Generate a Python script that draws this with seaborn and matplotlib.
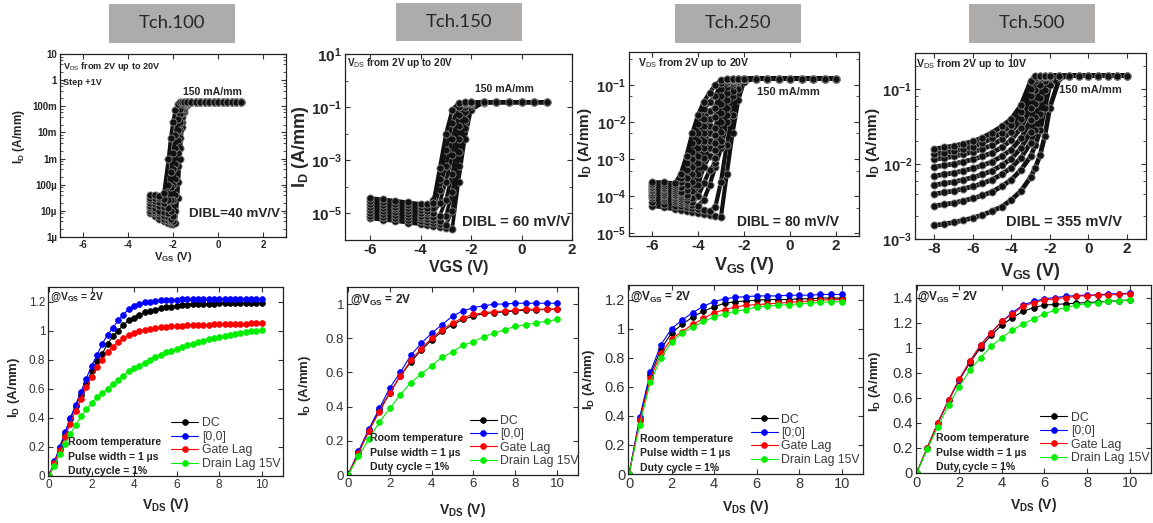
import matplotlib
matplotlib.use("Agg")
import matplotlib.pyplot as plt
import numpy as np
import pandas as pd
import seaborn as sns
from matplotlib.patches import Rectangle
from matplotlib.ticker import LogLocator, NullFormatter, FixedLocator

sns.set_theme(style="ticks")
plt.rcParams["font.family"] = ["Liberation Sans", "DejaVu Sans"]
plt.rcParams["mathtext.fontset"] = "custom"
plt.rcParams["mathtext.rm"] = "Liberation Sans"
plt.rcParams["mathtext.bf"] = "Liberation Sans:bold"
plt.rcParams["mathtext.it"] = "Liberation Sans:italic"
plt.rcParams["axes.unicode_minus"] = False

# ---------------- DATA ----------------
panel_titles = ["Tch.100", "Tch.150", "Tch.250", "Tch.500"]
vds_ranges = ["20V", "20V", "20V", "10V"]
dibl_labels = ["DIBL=40 mV/V", "DIBL = 60 mV/V", "DIBL = 80 mV/V", "DIBL = 355 mV/V"]

# transfer curves: log10(ID [A/mm]) vs VGS, one row per VDS step
vgs_100 = [-3.0, -2.8, -2.6, -2.4, -2.2, -2.1, -2.0, -1.9, -1.8, -1.7, -1.6, -1.5, -1.4,
           -1.2, -1.0, -0.8, -0.6, -0.4, -0.2, 0.0, 0.2, 0.4, 0.6, 0.8, 1.0]
logid_100 = [
    [-5.1, -5.2, -5.3, -5.4, -5.45, -5.5, -5.5, -5.45, -4.5, -3.0, -1.8, -1.2, -0.95, -0.83,
     -0.82, -0.82, -0.82, -0.82, -0.82, -0.82, -0.82, -0.82, -0.82, -0.82, -0.82],
    [-5.0, -5.1, -5.2, -5.3, -5.35, -5.4, -5.4, -5.0, -3.9, -2.6, -1.6, -1.1, -0.9, -0.82,
     -0.82, -0.82, -0.82, -0.82, -0.82, -0.82, -0.82, -0.82, -0.82, -0.82, -0.82],
    [-4.9, -5.0, -5.1, -5.2, -5.25, -5.3, -5.2, -4.4, -3.3, -2.2, -1.4, -1.0, -0.87, -0.82,
     -0.82, -0.82, -0.82, -0.82, -0.82, -0.82, -0.82, -0.82, -0.82, -0.82, -0.82],
    [-4.8, -4.9, -5.0, -5.05, -5.1, -5.0, -4.6, -3.8, -2.8, -1.9, -1.25, -0.95, -0.85, -0.82,
     -0.82, -0.82, -0.82, -0.82, -0.82, -0.82, -0.82, -0.82, -0.82, -0.82, -0.82],
    [-4.7, -4.75, -4.8, -4.85, -4.9, -4.6, -4.0, -3.2, -2.3, -1.6, -1.1, -0.9, -0.84, -0.82,
     -0.82, -0.82, -0.82, -0.82, -0.82, -0.82, -0.82, -0.82, -0.82, -0.82, -0.82],
    [-4.6, -4.62, -4.65, -4.7, -4.6, -4.1, -3.4, -2.6, -1.9, -1.3, -1.0, -0.87, -0.83, -0.82,
     -0.82, -0.82, -0.82, -0.82, -0.82, -0.82, -0.82, -0.82, -0.82, -0.82, -0.82],
    [-4.5, -4.5, -4.52, -4.55, -4.0, -3.5, -2.8, -2.1, -1.5, -1.1, -0.92, -0.85, -0.82, -0.82,
     -0.82, -0.82, -0.82, -0.82, -0.82, -0.82, -0.82, -0.82, -0.82, -0.82, -0.82],
    [-4.4, -4.4, -4.42, -4.3, -3.0, -2.2, -1.6, -1.15, -0.92, -0.84, -0.82, -0.82, -0.82, -0.82,
     -0.82, -0.82, -0.82, -0.82, -0.82, -0.82, -0.82, -0.82, -0.82, -0.82, -0.82],
]

vgs_150 = [-6.0, -5.5, -5.0, -4.5, -4.0, -3.75, -3.5, -3.25, -3.0, -2.75, -2.5, -2.25, -2.0,
           -1.5, -1.0, -0.5, 0.0, 0.5, 1.0]
logid_150 = [
    [-5.19, -5.24, -5.29, -5.35, -5.41, -5.44, -5.47, -5.51, -5.54, -5.58, -3.8, -2.2, -1.1,
     -0.83, -0.82, -0.82, -0.82, -0.82, -0.82],
    [-5.08, -5.13, -5.18, -5.24, -5.30, -5.33, -5.36, -5.40, -5.43, -4.9, -3.2, -1.8, -0.95,
     -0.82, -0.82, -0.82, -0.82, -0.82, -0.82],
    [-4.97, -5.02, -5.07, -5.13, -5.19, -5.22, -5.25, -5.29, -5.1, -4.2, -2.7, -1.5, -0.88,
     -0.82, -0.82, -0.82, -0.82, -0.82, -0.82],
    [-4.86, -4.91, -4.96, -5.02, -5.08, -5.11, -5.14, -5.1, -4.5, -3.5, -2.2, -1.2, -0.84,
     -0.82, -0.82, -0.82, -0.82, -0.82, -0.82],
    [-4.75, -4.80, -4.85, -4.91, -4.97, -5.00, -5.0, -4.6, -3.8, -2.8, -1.7, -1.0, -0.83,
     -0.82, -0.82, -0.82, -0.82, -0.82, -0.82],
    [-4.64, -4.69, -4.74, -4.80, -4.86, -4.89, -4.8, -4.1, -3.2, -2.2, -1.3, -0.88, -0.82,
     -0.82, -0.82, -0.82, -0.82, -0.82, -0.82],
    [-4.53, -4.58, -4.63, -4.69, -4.75, -4.78, -4.5, -3.7, -2.6, -1.6, -1.0, -0.84, -0.82,
     -0.82, -0.82, -0.82, -0.82, -0.82, -0.82],
    [-4.42, -4.47, -4.52, -4.58, -4.64, -4.66, -4.6, -3.3, -2.0, -1.1, -0.84, -0.82, -0.82,
     -0.82, -0.82, -0.82, -0.82, -0.82, -0.82],
]

vgs_250 = [-6.0, -5.5, -5.0, -4.75, -4.5, -4.25, -4.0, -3.75, -3.5, -3.25, -3.0, -2.75, -2.5,
           -2.25, -2.0, -1.5, -1.0, -0.5, 0.0, 0.5, 1.0, 1.5, 2.0]
logid_250 = [
    [-4.25, -4.30, -4.35, -4.37, -4.40, -4.42, -4.45, -4.47, -4.50, -4.52, -4.55, -3.4, -2.3,
     -1.4, -0.9, -0.82, -0.82, -0.82, -0.82, -0.82, -0.82, -0.82, -0.82],
    [-4.15, -4.20, -4.25, -4.27, -4.30, -4.32, -4.35, -4.37, -4.40, -4.3, -3.6, -2.6, -1.8,
     -1.1, -0.84, -0.82, -0.82, -0.82, -0.82, -0.82, -0.82, -0.82, -0.82],
    [-4.05, -4.10, -4.15, -4.17, -4.20, -4.22, -4.25, -4.1, -3.7, -3.2, -2.7, -2.0, -1.3,
     -0.9, -0.82, -0.82, -0.82, -0.82, -0.82, -0.82, -0.82, -0.82, -0.82],
    [-4.00, -4.05, -4.10, -4.12, -4.15, -4.15, -4.0, -3.65, -3.3, -3.1, -2.6, -1.8, -1.15,
     -0.87, -0.82, -0.82, -0.82, -0.82, -0.82, -0.82, -0.82, -0.82, -0.82],
    [-3.95, -4.00, -4.05, -4.07, -4.10, -4.05, -3.7, -3.2, -2.9, -2.95, -2.5, -1.6, -1.0,
     -0.84, -0.82, -0.82, -0.82, -0.82, -0.82, -0.82, -0.82, -0.82, -0.82],
    [-3.90, -3.95, -4.00, -4.02, -4.03, -3.85, -3.4, -2.95, -2.7, -2.75, -2.25, -1.4, -0.93,
     -0.83, -0.82, -0.82, -0.82, -0.82, -0.82, -0.82, -0.82, -0.82, -0.82],
    [-3.85, -3.90, -3.95, -3.97, -3.95, -3.6, -3.1, -2.7, -2.5, -2.55, -2.0, -1.2, -0.88,
     -0.82, -0.82, -0.82, -0.82, -0.82, -0.82, -0.82, -0.82, -0.82, -0.82],
    [-3.82, -3.85, -3.90, -3.92, -3.82, -3.4, -2.9, -2.5, -2.3, -2.35, -1.75, -1.05, -0.85,
     -0.82, -0.82, -0.82, -0.82, -0.82, -0.82, -0.82, -0.82, -0.82, -0.82],
    [-3.78, -3.80, -3.85, -3.87, -3.7, -3.2, -2.7, -2.3, -2.1, -2.15, -1.5, -0.95, -0.83,
     -0.82, -0.82, -0.82, -0.82, -0.82, -0.82, -0.82, -0.82, -0.82, -0.82],
    [-3.74, -3.76, -3.80, -3.75, -3.5, -3.0, -2.5, -2.1, -1.9, -1.85, -1.3, -0.9, -0.82,
     -0.82, -0.82, -0.82, -0.82, -0.82, -0.82, -0.82, -0.82, -0.82, -0.82],
    [-3.70, -3.72, -3.75, -3.6, -3.3, -2.8, -2.3, -1.9, -1.7, -1.6, -1.1, -0.85, -0.82,
     -0.82, -0.82, -0.82, -0.82, -0.82, -0.82, -0.82, -0.82, -0.82, -0.82],
    [-3.66, -3.67, -3.70, -3.5, -3.1, -2.55, -2.05, -1.65, -1.45, -1.3, -0.95, -0.83, -0.82,
     -0.82, -0.82, -0.82, -0.82, -0.82, -0.82, -0.82, -0.82, -0.82, -0.82],
    [-3.62, -3.62, -3.65, -3.4, -2.9, -2.3, -1.8, -1.45, -1.2, -1.0, -0.85, -0.82, -0.82,
     -0.82, -0.82, -0.82, -0.82, -0.82, -0.82, -0.82, -0.82, -0.82, -0.82],
]

vgs_500 = [-8.0, -7.5, -7.0, -6.5, -6.0, -5.5, -5.0, -4.5, -4.0, -3.5, -3.0, -2.75, -2.5,
           -2.25, -2.0, -1.5, -1.0, -0.5, 0.0, 0.5, 1.0, 1.5, 2.0]
logid_500 = [
    [-2.82, -2.80, -2.78, -2.75, -2.72, -2.68, -2.63, -2.57, -2.48, -2.36, -2.18, -2.05, -1.88,
     -1.62, -1.25, -0.86, -0.82, -0.82, -0.82, -0.82, -0.82, -0.82, -0.82],
    [-2.56, -2.54, -2.52, -2.49, -2.46, -2.42, -2.37, -2.30, -2.21, -2.08, -1.90, -1.75, -1.55,
     -1.25, -0.95, -0.83, -0.82, -0.82, -0.82, -0.82, -0.82, -0.82, -0.82],
    [-2.40, -2.38, -2.36, -2.33, -2.30, -2.26, -2.21, -2.14, -2.05, -1.92, -1.72, -1.55, -1.33,
     -1.02, -0.86, -0.82, -0.82, -0.82, -0.82, -0.82, -0.82, -0.82, -0.82],
    [-2.28, -2.26, -2.24, -2.21, -2.18, -2.14, -2.09, -2.02, -1.93, -1.79, -1.57, -1.38, -1.12,
     -0.90, -0.83, -0.82, -0.82, -0.82, -0.82, -0.82, -0.82, -0.82, -0.82],
    [-2.16, -2.14, -2.12, -2.09, -2.06, -2.02, -1.97, -1.90, -1.81, -1.66, -1.42, -1.20, -0.95,
     -0.84, -0.82, -0.82, -0.82, -0.82, -0.82, -0.82, -0.82, -0.82, -0.82],
    [-2.04, -2.02, -2.00, -1.97, -1.94, -1.90, -1.85, -1.78, -1.68, -1.52, -1.25, -1.02, -0.86,
     -0.82, -0.82, -0.82, -0.82, -0.82, -0.82, -0.82, -0.82, -0.82, -0.82],
    [-1.94, -1.92, -1.90, -1.87, -1.84, -1.80, -1.75, -1.67, -1.57, -1.40, -1.10, -0.90, -0.83,
     -0.82, -0.82, -0.82, -0.82, -0.82, -0.82, -0.82, -0.82, -0.82, -0.82],
    [-1.87, -1.85, -1.83, -1.80, -1.77, -1.72, -1.66, -1.58, -1.48, -1.31, -1.00, -0.85, -0.82,
     -0.82, -0.82, -0.82, -0.82, -0.82, -0.82, -0.82, -0.82, -0.82, -0.82],
    [-1.80, -1.78, -1.76, -1.73, -1.70, -1.65, -1.58, -1.50, -1.40, -1.22, -0.90, -0.82, -0.82,
     -0.82, -0.82, -0.82, -0.82, -0.82, -0.82, -0.82, -0.82, -0.82, -0.82],
]

# output curves @VGS = 2V
modes = ["DC", "[0,0]", "Gate Lag", "Drain Lag 15V"]
vds_100 = [0, 0.25, 0.5, 0.75, 1, 1.25, 1.5, 1.75, 2, 2.25, 2.5, 2.75, 3, 3.25, 3.5, 3.75, 4,
           4.25, 4.5, 4.75, 5, 5.25, 5.5, 5.75, 6, 6.25, 6.5, 6.75, 7, 7.25, 7.5, 7.75, 8,
           8.25, 8.5, 8.75, 9, 9.25, 9.5, 9.75, 10]
dc_100 = [0, 0.09, 0.19, 0.29, 0.39, 0.48, 0.56, 0.64, 0.72, 0.79, 0.84, 0.91, 0.96, 1.00,
          1.04, 1.07, 1.09, 1.11, 1.125, 1.135, 1.145, 1.155, 1.16, 1.165, 1.17, 1.175, 1.178,
          1.18, 1.182, 1.184, 1.185, 1.186, 1.187, 1.188, 1.188, 1.189, 1.189, 1.19, 1.19,
          1.19, 1.19]
p00_100 = [0, 0.10, 0.20, 0.30, 0.40, 0.49, 0.58, 0.67, 0.76, 0.83, 0.91, 0.97, 1.02, 1.07,
           1.11, 1.15, 1.17, 1.185, 1.195, 1.20, 1.205, 1.21, 1.21, 1.212, 1.214, 1.215, 1.216,
           1.217, 1.218, 1.218, 1.219, 1.219, 1.22, 1.22, 1.22, 1.22, 1.22, 1.22, 1.22, 1.22,
           1.22]
gl_100 = [0, 0.09, 0.18, 0.27, 0.36, 0.45, 0.53, 0.61, 0.68, 0.75, 0.80, 0.85, 0.89, 0.92,
          0.95, 0.97, 0.985, 0.995, 1.005, 1.012, 1.018, 1.022, 1.026, 1.03, 1.032, 1.034,
          1.036, 1.038, 1.04, 1.041, 1.042, 1.043, 1.044, 1.045, 1.046, 1.047, 1.048, 1.048,
          1.049, 1.049, 1.05]
dl_100 = [0, 0.07, 0.15, 0.22, 0.29, 0.35, 0.41, 0.46, 0.50, 0.54, 0.57, 0.60, 0.63, 0.66,
          0.69, 0.72, 0.74, 0.76, 0.78, 0.80, 0.82, 0.835, 0.85, 0.86, 0.875, 0.885, 0.90,
          0.91, 0.92, 0.93, 0.94, 0.95, 0.955, 0.965, 0.97, 0.98, 0.985, 0.99, 0.995, 1.0,
          1.005]

vds_half = [0, 0.5, 1, 1.5, 2, 2.5, 3, 3.5, 4, 4.5, 5, 5.5, 6, 6.5, 7, 7.5, 8, 8.5, 9, 9.5, 10]
dc_150 = [0, 0.13, 0.26, 0.38, 0.48, 0.58, 0.66, 0.73, 0.79, 0.84, 0.88, 0.91, 0.93, 0.945,
          0.95, 0.955, 0.96, 0.965, 0.965, 0.97, 0.97]
p00_150 = [0, 0.14, 0.27, 0.39, 0.51, 0.60, 0.70, 0.77, 0.83, 0.88, 0.93, 0.96, 0.98, 0.99,
           1.0, 1.0, 1.005, 1.005, 1.005, 1.005, 1.005]
gl_150 = [0, 0.13, 0.26, 0.37, 0.48, 0.58, 0.67, 0.74, 0.80, 0.85, 0.89, 0.92, 0.94, 0.95,
          0.955, 0.96, 0.965, 0.97, 0.97, 0.97, 0.97]
dl_150 = [0, 0.11, 0.21, 0.31, 0.39, 0.47, 0.54, 0.59, 0.64, 0.69, 0.72, 0.76, 0.78, 0.81,
          0.83, 0.85, 0.87, 0.88, 0.89, 0.90, 0.91]

dc_250 = [0, 0.37, 0.68, 0.86, 0.97, 1.03, 1.08, 1.12, 1.15, 1.175, 1.185, 1.19, 1.195, 1.2,
          1.2, 1.2, 1.205, 1.205, 1.21, 1.21, 1.21]
p00_250 = [0, 0.39, 0.70, 0.89, 1.0, 1.06, 1.11, 1.155, 1.185, 1.205, 1.215, 1.22, 1.225,
           1.225, 1.225, 1.23, 1.23, 1.23, 1.235, 1.235, 1.235]
gl_250 = [0, 0.37, 0.66, 0.83, 0.93, 0.98, 1.03, 1.07, 1.11, 1.13, 1.15, 1.16, 1.165, 1.17,
          1.175, 1.18, 1.185, 1.19, 1.195, 1.2, 1.2]
dl_250 = [0, 0.34, 0.63, 0.80, 0.91, 0.97, 1.01, 1.05, 1.08, 1.10, 1.12, 1.13, 1.15, 1.155,
          1.16, 1.165, 1.17, 1.175, 1.18, 1.185, 1.185]

dc_500 = [0, 0.20, 0.40, 0.58, 0.74, 0.88, 1.0, 1.10, 1.18, 1.24, 1.29, 1.32, 1.34, 1.345,
          1.35, 1.355, 1.36, 1.365, 1.37, 1.375, 1.38]
p00_500 = [0, 0.20, 0.40, 0.58, 0.74, 0.89, 1.02, 1.12, 1.21, 1.28, 1.34, 1.37, 1.39, 1.40,
           1.41, 1.415, 1.42, 1.42, 1.43, 1.43, 1.435]
gl_500 = [0, 0.20, 0.40, 0.58, 0.75, 0.89, 1.02, 1.12, 1.21, 1.27, 1.33, 1.36, 1.38, 1.39,
          1.40, 1.41, 1.415, 1.42, 1.42, 1.425, 1.43]
dl_500 = [0, 0.19, 0.37, 0.54, 0.69, 0.82, 0.92, 1.01, 1.08, 1.14, 1.19, 1.23, 1.27, 1.30,
          1.32, 1.34, 1.35, 1.36, 1.37, 1.375, 1.38]

# ---------------- FIGURE ----------------
W, H = 1153, 523
fig = plt.figure(figsize=(W / 100, H / 100), dpi=100)
fig.patch.set_facecolor("white")


def add_ax(l, t, r, b):
    return fig.add_axes([l / W, 1 - b / H, (r - l) / W, (b - t) / H])


def style_frame(ax):
    for s in ax.spines.values():
        s.set_linewidth(0.9)
        s.set_color("#222222")
    ax.tick_params(which="both", direction="in", top=True, right=True, color="#333333")
    ax.tick_params(which="major", length=3.5, width=0.8)
    ax.tick_params(which="minor", length=2, width=0.6)


def center_labels(ax):
    ax.xaxis.label.set_va("center")
    ax.yaxis.label.set_va("center")
    ax.yaxis.label.set_ha("center")


# title boxes
title_boxes = [(109, 4, 235, 43), (396, 3, 522, 41), (675, 4, 801, 43), (969, 4, 1095, 43)]
for (x0, y0, x1, y1), t in zip(title_boxes, panel_titles):
    fig.add_artist(Rectangle((x0 / W, 1 - y1 / H), (x1 - x0) / W, (y1 - y0) / H,
                             transform=fig.transFigure, facecolor="#aeabab",
                             edgecolor="none"))
    fig.text((x0 + x1) / 2 / W, 1 - (y0 + y1) / 2 / H, t, ha="center", va="center",
             fontsize=13.3, family="Lato", color="#262626")

# ---- top row: transfer characteristics ----
top_boxes = [(60, 54, 286, 237), (345, 54, 572, 240), (629, 52, 859, 236), (915, 53, 1146, 239)]
top_grids = [vgs_100, vgs_150, vgs_250, vgs_500]
top_logs = [logid_100, logid_150, logid_250, logid_500]
top_xlim = [(-7, 3), (-7, 2), (-7, 3), (-9, 3)]
top_ylim = [(1e-6, 10), (1e-6, 10), (10 ** -5.07, 10 ** -0.1), (1e-3, 10 ** -0.52)]
top_xticks = [[-6, -4, -2, 0, 2], [-6, -4, -2, 0, 2], [-6, -4, -2, 0, 2],
              [-8, -6, -4, -2, 0, 2]]
top_tickfs = [7, 11, 11, 11]
ylab_pos = [(-0.181, 0.55), (-0.196, 0.5), (-0.19, 0.505), (-0.18, 0.516)]
xlab_pos = [-0.112, -0.15, -0.158, -0.176]
vds_txt_pos = [(0.015, 0.93), (0.01, 0.95), (0.037, 0.94), (0.004, 0.94)]
ma_txt_pos = [(0.545, 0.79), (0.573, 0.81), (0.558, 0.78), (0.623, 0.80)]
dibl_pos = [(0.975, 0.124), (0.99, 0.098), (0.913, 0.078), (0.894, 0.093)]
small_txt = [6.6, 7.2, 7.6, 7.6]
ma_fs = [7.6, 7.6, 8.0, 8.0]
dibl_fs = [9.6, 10.5, 10.0, 10.5]
line_w = [2.6, 2.6, 3.0, 3.4]

for i in range(4):
    ax = add_ax(*top_boxes[i])
    rows = []
    for k, curve in enumerate(top_logs[i]):
        for v, lg in zip(top_grids[i], curve):
            rows.append({"vgs": v, "id": 10 ** lg, "curve": k})
    df = pd.DataFrame(rows)
    sns.lineplot(data=df, x="vgs", y="id", units="curve", estimator=None, sort=False,
                 color="#111111", lw=line_w[i], marker="o", markersize=5.2,
                 markerfacecolor="#111111", markeredgecolor="#8a8a8a",
                 markeredgewidth=0.6, ax=ax, legend=False)
    ax.set_yscale("log")
    ax.set_xlim(*top_xlim[i])
    ax.set_ylim(*top_ylim[i])
    style_frame(ax)
    ax.set_xticks(top_xticks[i])
    ax.set_xticklabels([str(t) for t in top_xticks[i]], fontsize=top_tickfs[i],
                       fontweight="bold")
    if i == 0:
        yt = [1e-6, 1e-5, 1e-4, 1e-3, 1e-2, 1e-1, 1, 10]
        ax.yaxis.set_major_locator(FixedLocator(yt))
        ax.set_yticklabels(["1µ", "10µ", "100µ", "1m", "10m", "100m", "1", "10"],
                           fontsize=7, fontweight="bold")
        ax.yaxis.set_minor_locator(LogLocator(base=10, subs=(2, 4, 6, 8), numticks=20))
    elif i == 1:
        yt = [1e1, 1e-1, 1e-3, 1e-5]
        ax.yaxis.set_major_locator(FixedLocator(yt))
        ax.set_yticklabels([r"$\mathbf{10^{1}}$", r"$\mathbf{10^{-1}}$",
                            r"$\mathbf{10^{-3}}$", r"$\mathbf{10^{-5}}$"], fontsize=11)
        ax.yaxis.set_minor_locator(FixedLocator([1, 1e-2, 1e-4, 1e-6]))
    elif i == 2:
        yt = [1e-1, 1e-2, 1e-3, 1e-4, 1e-5]
        ax.yaxis.set_major_locator(FixedLocator(yt))
        ax.set_yticklabels([r"$\mathbf{10^{-1}}$", r"$\mathbf{10^{-2}}$",
                            r"$\mathbf{10^{-3}}$", r"$\mathbf{10^{-4}}$",
                            r"$\mathbf{10^{-5}}$"], fontsize=10.5)
        ax.yaxis.set_minor_locator(LogLocator(base=10, subs=(5,), numticks=20))
    else:
        yt = [1e-1, 1e-2, 1e-3]
        ax.yaxis.set_major_locator(FixedLocator(yt))
        ax.set_yticklabels([r"$\mathbf{10^{-1}}$", r"$\mathbf{10^{-2}}$",
                            r"$\mathbf{10^{-3}}$"], fontsize=10.5)
        ax.yaxis.set_minor_locator(LogLocator(base=10, subs=(2, 4, 6, 8), numticks=20))
    ax.yaxis.set_minor_formatter(NullFormatter())
    ax.tick_params(axis="both", pad=2)

    # labels
    if i == 0:
        ax.set_ylabel(r"I$_{\mathbf{D}}$ (A/mm)", fontsize=8.5, fontweight="bold")
        ax.set_xlabel(r"V$_{\mathbf{GS}}$ (V)", fontsize=8, fontweight="bold")
    elif i == 1:
        ax.set_ylabel(r"I$_{\mathbf{D}}$ (A/mm)", fontsize=13, fontweight="bold")
        ax.set_xlabel("VGS (V)", fontsize=11.5, fontweight="bold")
    else:
        ax.set_ylabel(r"I$_{\mathbf{D}}$ (A/mm)", fontsize=11, fontweight="bold")
        ax.set_xlabel(r"V$_{\mathbf{GS}}$ (V)", fontsize=13, fontweight="bold")
    center_labels(ax)
    ax.yaxis.set_label_coords(*ylab_pos[i])
    ax.xaxis.set_label_coords(0.5, xlab_pos[i])

    ax.text(*vds_txt_pos[i], r"V$_{\mathrm{DS}}$ from 2V up to " + vds_ranges[i],
            transform=ax.transAxes, ha="left", va="center", fontsize=small_txt[i],
            fontweight="bold")
    if i == 0:
        ax.text(0.015, 0.845, "Step +1V", transform=ax.transAxes, ha="left",
                va="center", fontsize=small_txt[i], fontweight="bold")
    ax.text(*ma_txt_pos[i], "150 mA/mm", transform=ax.transAxes, ha="left",
            va="center", fontsize=ma_fs[i], fontweight="bold")
    ax.text(*dibl_pos[i], dibl_labels[i], transform=ax.transAxes, ha="right",
            va="center", fontsize=dibl_fs[i], fontweight="bold")

# ---- bottom row: pulsed output characteristics ----
bot_boxes = [(48, 287, 283, 476), (347, 287, 578, 475), (628, 285, 863, 474),
             (915.5, 285, 1151, 473)]
bot_x = [vds_100, vds_half, vds_half, vds_half]
bot_series = [
    [dc_100, p00_100, gl_100, dl_100],
    [dc_150, p00_150, gl_150, dl_150],
    [dc_250, p00_250, gl_250, dl_250],
    [dc_500, p00_500, gl_500, dl_500],
]
bot_labels = [modes, modes, ["DC", "[0;0]", "Gate Lag", "Drain Lag 15V"],
              ["DC", "[0;0]", "Gate Lag", "Drain Lag 15V"]]
bot_ylim = [(0, 1.3), (0, 1.1), (0, 1.3), (0, 1.5)]
bot_yticks = [[0, 0.2, 0.4, 0.6, 0.8, 1, 1.2], [0, 0.2, 0.4, 0.6, 0.8, 1],
              [0, 0.2, 0.4, 0.6, 0.8, 1, 1.2], [0, 0.2, 0.4, 0.6, 0.8, 1, 1.2, 1.4]]
bot_tickfs = [8.5, 9.5, 10.5, 10.5]
bot_ylab = [(-0.145, 0.47), (-0.18, 0.48), (-0.164, 0.5), (-0.17, 0.49)]
bot_xlab = [-0.153, -0.186, -0.175, -0.17]
bot_vgs_pos = [(0.01, 0.943), (0.013, 0.93), (0.01, 0.938), (0.008, 0.938)]
bot_note_x = [0.085, 0.10, 0.049, 0.085]
bot_note_y = [(0.178, 0.102, 0.026), (0.195, 0.115, 0.041), (0.187, 0.11, 0.032),
              (0.188, 0.108, 0.03)]
bot_leg = [(0.525, 0.31), (0.532, 0.32), (0.523, 0.32), (0.529, 0.326)]
colors = ["#000000", "#0000ff", "#ff0000", "#00ee00"]
notes = ["Room temperature", "Pulse width = 1 µs", "Duty cycle = 1%"]

for i in range(4):
    ax = add_ax(*bot_boxes[i])
    rows = []
    for lab, ys in zip(bot_labels[i], bot_series[i]):
        for x, y in zip(bot_x[i], ys):
            rows.append({"vds": x, "id": y, "mode": lab})
    df = pd.DataFrame(rows)
    pal = dict(zip(bot_labels[i], colors))
    sns.lineplot(data=df, x="vds", y="id", hue="mode", hue_order=bot_labels[i],
                 palette=pal, estimator=None, sort=False, lw=0.8, marker="o",
                 markersize=4.2, markeredgewidth=0.5, ax=ax, legend=False)
    for ln, c in zip(ax.lines, colors):
        ln.set_markeredgecolor(c)
    ax.set_xlim(-0.05, 11)
    ax.set_ylim(*bot_ylim[i])
    style_frame(ax)
    ax.set_xticks([0, 2, 4, 6, 8, 10])
    ax.set_yticks(bot_yticks[i])
    ax.set_yticklabels([("%g" % v) for v in bot_yticks[i]])
    ax.tick_params(axis="both", labelsize=bot_tickfs[i], labelcolor="#333333", pad=2)
    ax.set_ylabel(r"I$_{\mathbf{D}}$ (A/mm)", fontsize=9.5, fontweight="bold")
    ax.set_xlabel(r"V$_{\mathbf{DS}}$ (V)", fontsize=10, fontweight="bold")
    center_labels(ax)
    ax.yaxis.set_label_coords(*bot_ylab[i])
    ax.xaxis.set_label_coords(0.5, bot_xlab[i])
    ax.text(*bot_vgs_pos[i], r"@V$_{\mathbf{GS}}$ = 2V", transform=ax.transAxes,
            ha="left", va="center", fontsize=8.5 if i else 7.5, fontweight="bold",
            color="#222222")
    for n, yy in zip(notes, bot_note_y[i]):
        ax.text(bot_note_x[i], yy, n, transform=ax.transAxes, ha="left", va="center",
                fontsize=7.6, fontweight="bold", color="#222222")
    handles = list(ax.lines[:4])
    ax.legend(handles, bot_labels[i], loc="upper left", bbox_to_anchor=bot_leg[i],
              borderaxespad=0, borderpad=0, frameon=False, handlelength=2.2,
              handletextpad=0.3, labelspacing=0.12, fontsize=8.8,
              labelcolor="#3a3a3a", numpoints=1)

fig.savefig("out.png", dpi=100, facecolor="white")
